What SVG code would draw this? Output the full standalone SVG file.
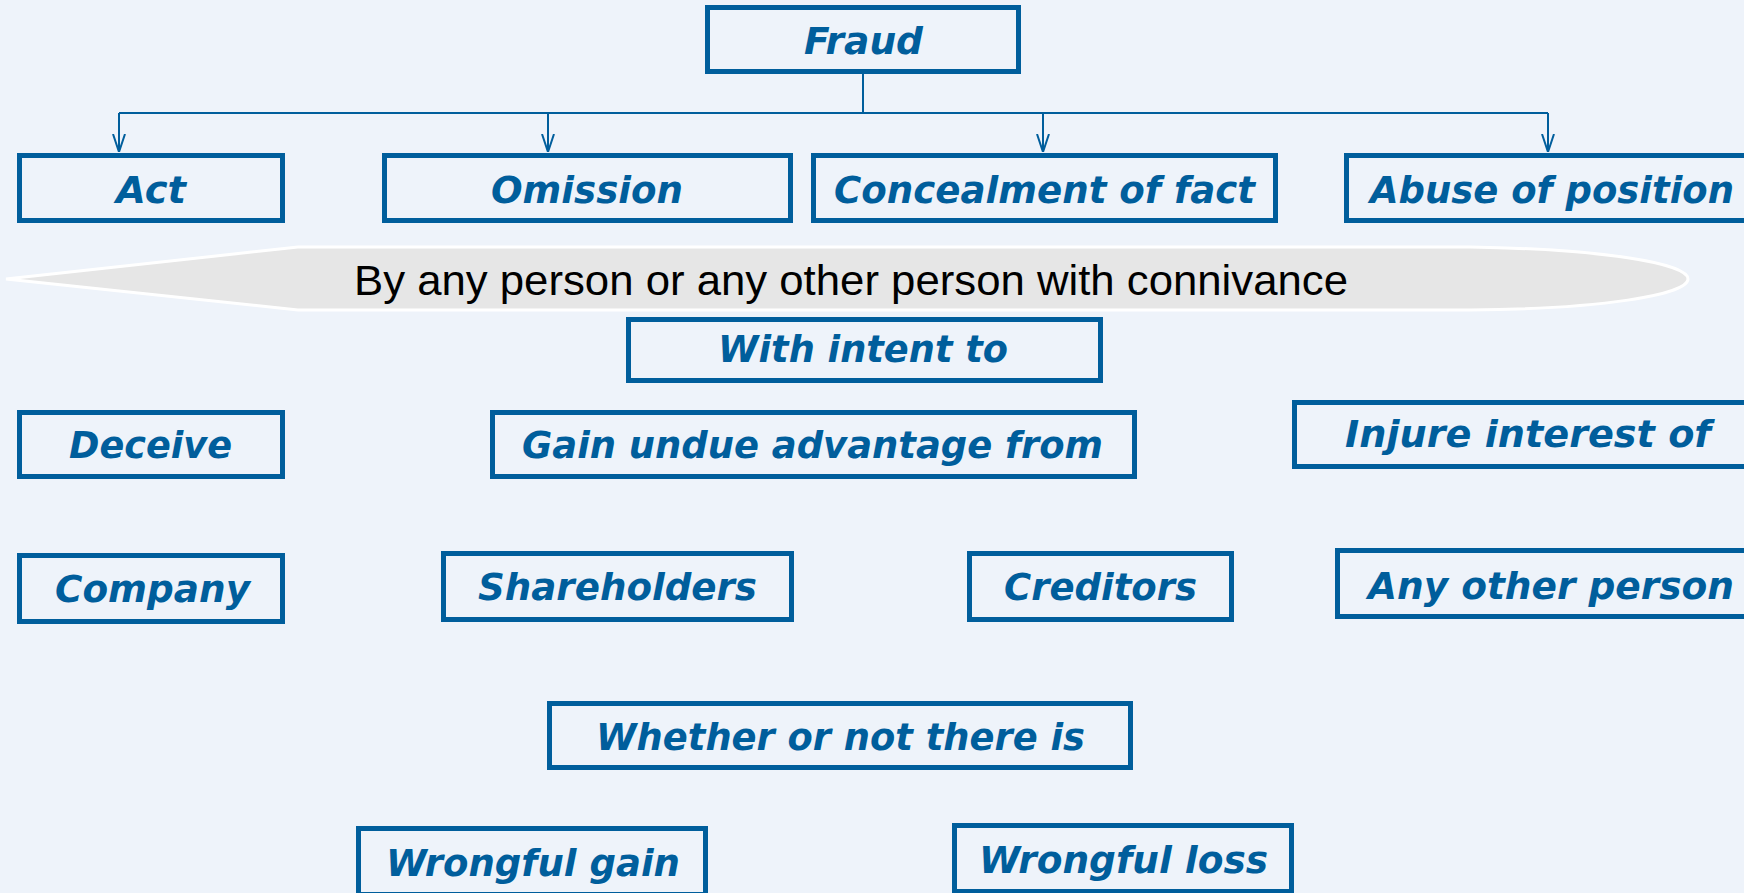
<svg xmlns="http://www.w3.org/2000/svg" width="1744" height="893" viewBox="0 0 1744 893">
<style>
.bg{fill:#eef3fa}
.box{fill:none;stroke:#005e9c;stroke-width:5}
.lbl{font-family:"DejaVu Sans",Verdana,sans-serif;font-weight:bold;font-style:italic;font-size:38px;fill:#005e9c}
.conn{fill:none;stroke:#005e9c;stroke-width:2}
.banner{fill:#e6e6e6;stroke:#ffffff;stroke-width:3}
.btxt{font-family:"Liberation Sans",Arial,sans-serif;font-size:43px;fill:#000000}
</style>
<defs>
<marker id="arr" markerUnits="userSpaceOnUse" markerWidth="18" markerHeight="14" viewBox="0 0 18 14" refX="18" refY="7" orient="auto">
<path d="M0,1 L18,7 L0,13" fill="none" stroke="#005e9c" stroke-width="2"/>
</marker>
</defs>
<rect class="bg" x="0" y="0" width="1744" height="893"/>

<g id="connectors">
<path class="conn" d="M863,74 V113"/>
<path class="conn" d="M119,113 H1548"/>
<path class="conn" d="M119,113 V152" marker-end="url(#arr)"/>
<path class="conn" d="M548,113 V152" marker-end="url(#arr)"/>
<path class="conn" d="M1043,113 V152" marker-end="url(#arr)"/>
<path class="conn" d="M1548,113 V152" marker-end="url(#arr)"/>
</g>

<g id="fraud"><rect class="box" x="707.5" y="7.5" width="311" height="64"/><text class="lbl" x="804" y="54" textLength="119" lengthAdjust="spacingAndGlyphs">Fraud</text></g>

<g id="act"><rect class="box" x="19.5" y="155.5" width="263" height="65"/><text class="lbl" x="116" y="203" textLength="70" lengthAdjust="spacingAndGlyphs">Act</text></g>
<g id="omission"><rect class="box" x="384.5" y="155.5" width="406" height="65"/><text class="lbl" x="491" y="203" textLength="192" lengthAdjust="spacingAndGlyphs">Omission</text></g>
<g id="concealment"><rect class="box" x="813.5" y="155.5" width="462" height="65"/><text class="lbl" x="834" y="203" textLength="421" lengthAdjust="spacingAndGlyphs">Concealment of fact</text></g>
<g id="abuse"><rect class="box" x="1346.5" y="155.5" width="411" height="65"/><text class="lbl" x="1370" y="203" textLength="364" lengthAdjust="spacingAndGlyphs">Abuse of position</text></g>

<g id="banner">
<path class="banner" d="M6,279 L298,247 L1470,247 C1600,249 1688,263 1688,279 C1688,295 1600,309 1470,310 L298,310 Z"/>
<text class="btxt" x="354" y="295" textLength="994" lengthAdjust="spacingAndGlyphs">By any person or any other person with connivance</text>
</g>

<g id="intent"><rect class="box" x="628.5" y="319.5" width="472" height="61"/><text class="lbl" x="718" y="362" textLength="290" lengthAdjust="spacingAndGlyphs">With intent to</text></g>

<g id="deceive"><rect class="box" x="19.5" y="412.5" width="263" height="64"/><text class="lbl" x="69" y="458" textLength="163" lengthAdjust="spacingAndGlyphs">Deceive</text></g>
<g id="gain-undue"><rect class="box" x="492.5" y="412.5" width="642" height="64"/><text class="lbl" x="522" y="458" textLength="581" lengthAdjust="spacingAndGlyphs">Gain undue advantage from</text></g>
<g id="injure"><rect class="box" x="1294.5" y="402.5" width="463" height="64"/><text class="lbl" x="1345" y="447" textLength="366" lengthAdjust="spacingAndGlyphs">Injure interest of</text></g>

<g id="company"><rect class="box" x="19.5" y="555.5" width="263" height="66"/><text class="lbl" x="55" y="602" textLength="195" lengthAdjust="spacingAndGlyphs">Company</text></g>
<g id="shareholders"><rect class="box" x="443.5" y="553.5" width="348" height="66"/><text class="lbl" x="478" y="600" textLength="279" lengthAdjust="spacingAndGlyphs">Shareholders</text></g>
<g id="creditors"><rect class="box" x="969.5" y="553.5" width="262" height="66"/><text class="lbl" x="1004" y="600" textLength="193" lengthAdjust="spacingAndGlyphs">Creditors</text></g>
<g id="any-other"><rect class="box" x="1337.5" y="550.5" width="420" height="66"/><text class="lbl" x="1368" y="599" textLength="366" lengthAdjust="spacingAndGlyphs">Any other person</text></g>

<g id="whether"><rect class="box" x="549.5" y="703.5" width="581" height="64"/><text class="lbl" x="596" y="750" textLength="489" lengthAdjust="spacingAndGlyphs">Whether or not there is</text></g>

<g id="wrongful-gain"><rect class="box" x="358.5" y="828.5" width="347" height="66"/><text class="lbl" x="386" y="876" textLength="294" lengthAdjust="spacingAndGlyphs">Wrongful gain</text></g>
<g id="wrongful-loss"><rect class="box" x="954.5" y="825.5" width="337" height="66"/><text class="lbl" x="979" y="873" textLength="289" lengthAdjust="spacingAndGlyphs">Wrongful loss</text></g>
</svg>
